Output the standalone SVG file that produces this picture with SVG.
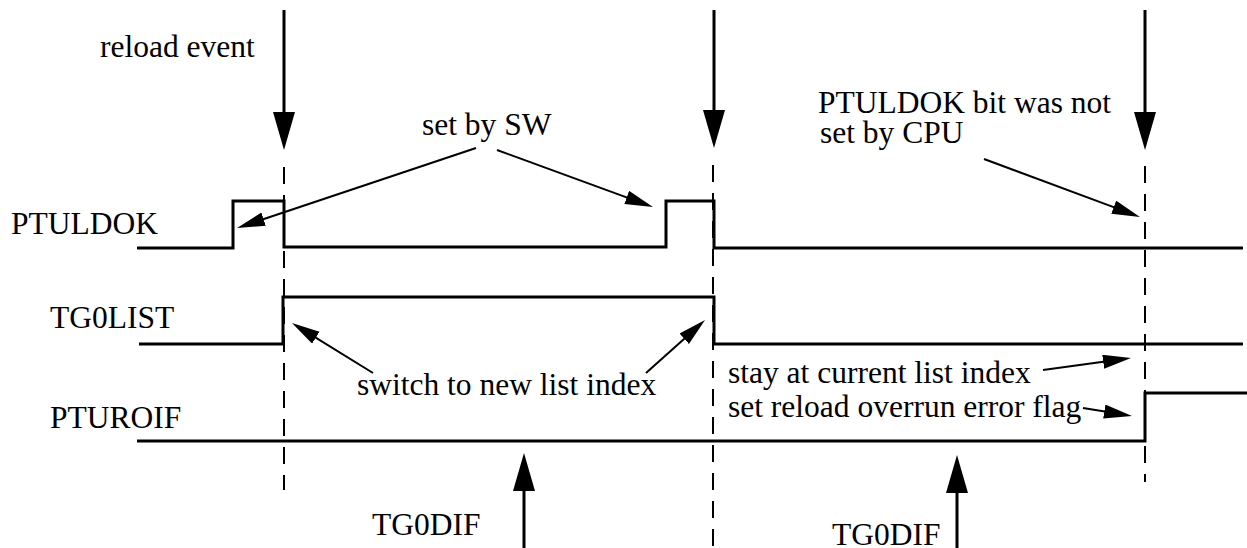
<svg xmlns="http://www.w3.org/2000/svg" width="1247" height="548" viewBox="0 0 1247 548">
<style>
  text { font-family: "Liberation Serif", "Times New Roman", Times, serif; font-size: 31.5px; fill: #000; }
  .sig { fill: none; stroke: #000; stroke-width: 3; stroke-linejoin: miter; }
  .evt { fill: none; stroke: #000; stroke-width: 3; }
  .dash { fill: none; stroke: #000; stroke-width: 2; stroke-dasharray: 17 11; }
  .ann { fill: none; stroke: #000; stroke-width: 2; }
</style>
<defs>
  <marker id="big" markerUnits="userSpaceOnUse" markerWidth="40" markerHeight="24" refX="2" refY="11" orient="auto">
    <path d="M0,0 L38,11 L0,22 Z" fill="#000"/>
  </marker>
  <marker id="small" markerUnits="userSpaceOnUse" markerWidth="30" markerHeight="16" refX="2" refY="7" orient="auto">
    <path d="M0,0 L28,7 L0,14 Z" fill="#000"/>
  </marker>
</defs>
<rect width="1247" height="548" fill="#fff"/>

<g id="signal-PTULDOK">
  <text x="11" y="234">PTULDOK</text>
  <path class="sig" d="M137,248 H233 V201 H284 V247 H666 V201 H714 V248 H1243"/>
</g>
<g id="signal-TG0LIST">
  <text x="50" y="328">TG0LIST</text>
  <path class="sig" d="M139,344 H283 V297 H714 V344 H1243"/>
</g>
<g id="signal-PTUROIF">
  <text x="50" y="428">PTUROIF</text>
  <path class="sig" d="M137,441 H1145 V393 H1247"/>
</g>

<g id="label-reload-event"><text x="100" y="57">reload event</text></g>
<g id="label-set-by-sw"><text x="422" y="135">set by SW</text></g>
<g id="label-not-set">
  <text x="818" y="113">PTULDOK bit was not</text>
  <text x="820" y="143">set by CPU</text>
</g>
<g id="label-switch"><text x="357" y="395">switch to new list index</text></g>
<g id="label-stay"><text x="728" y="383">stay at current list index</text></g>
<g id="label-flag"><text x="728" y="417">set reload overrun error flag</text></g>
<g id="label-tg0dif-1"><text x="372" y="535">TG0DIF</text></g>
<g id="label-tg0dif-2"><text x="832" y="545">TG0DIF</text></g>

<g id="connectors">
  <line class="evt" x1="284" y1="10" x2="284" y2="114" marker-end="url(#big)"/>
  <line class="evt" x1="714" y1="10" x2="714" y2="112" marker-end="url(#big)"/>
  <line class="evt" x1="1145" y1="10" x2="1145" y2="114" marker-end="url(#big)"/>
  <line class="dash" x1="284" y1="167" x2="284" y2="490"/>
  <line class="dash" x1="713" y1="165" x2="713" y2="548"/>
  <line class="dash" x1="1145" y1="166" x2="1145" y2="482"/>
  <line class="evt" x1="524" y1="548" x2="524" y2="489" marker-end="url(#big)"/>
  <line class="evt" x1="957" y1="548" x2="957" y2="491" marker-end="url(#big)"/>
  <line class="ann" x1="476" y1="148" x2="261.7" y2="219.8" marker-end="url(#small)"/>
  <line class="ann" x1="497" y1="150" x2="628.6" y2="198.1" marker-end="url(#small)"/>
  <line class="ann" x1="984" y1="159" x2="1115.6" y2="207.9" marker-end="url(#small)"/>
  <line class="ann" x1="373" y1="373" x2="314.1" y2="336.7" marker-end="url(#small)"/>
  <line class="ann" x1="646" y1="373" x2="685.7" y2="337.4" marker-end="url(#small)"/>
  <line class="ann" x1="1043" y1="370" x2="1105.2" y2="361.5" marker-end="url(#small)"/>
  <line class="ann" x1="1083" y1="408" x2="1106.3" y2="411.8" marker-end="url(#small)"/>
</g>
</svg>
